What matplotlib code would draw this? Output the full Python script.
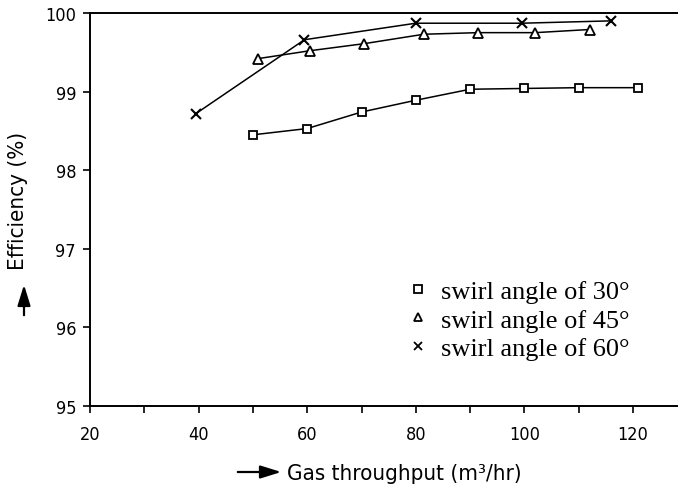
import matplotlib
matplotlib.use("Agg")
import matplotlib.pyplot as plt
from matplotlib.lines import Line2D
from matplotlib.ticker import MultipleLocator

## Data
x_30 = [50, 60, 70, 80, 90, 100, 110, 121]
eff_30 = [98.45, 98.53, 98.74, 98.89, 99.03, 99.04, 99.05, 99.05]

x_45 = [51, 60.5, 70.5, 81.5, 91.5, 102, 112]
eff_45 = [99.42, 99.52, 99.61, 99.73, 99.75, 99.75, 99.79]

x_60 = [39.5, 59.5, 80, 99.5, 116]
eff_60 = [98.72, 99.66, 99.87, 99.87, 99.90]

labels = ["swirl angle of 30°", "swirl angle of 45°", "swirl angle of 60°"]
x_ticks = [20, 40, 60, 80, 100, 120]
y_ticks = [95, 96, 97, 98, 99, 100]

tick_font = {"family": "DejaVu Sans", "stretch": "condensed", "size": 13}
label_font = {"family": "DejaVu Sans", "stretch": "condensed", "size": 16}

fig = plt.figure(figsize=(6.78, 4.89), dpi=100)
ax = fig.add_axes([90 / 678, 82 / 489, 588 / 678, 393 / 489])

ax.plot(x_30, eff_30, color="black", lw=1.1, marker="s", ms=6,
        mfc="white", mec="black", mew=1.3)
ax.plot(x_45, eff_45, color="black", lw=1.1, marker="^", ms=7,
        mfc="white", mec="black", mew=1.3)
ax.plot(x_60, eff_60, color="black", lw=1.1, marker="x", ms=7,
        mec="black", mew=1.5)

ax.set_xlim(20, 20 + 588 / 5.43)
ax.set_ylim(95, 100)
ax.set_xticks(x_ticks)
ax.set_yticks(y_ticks)
ax.xaxis.set_minor_locator(MultipleLocator(10))
ax.set_xticklabels([str(v) for v in x_ticks], fontdict=tick_font)
ax.set_yticklabels([str(v) for v in y_ticks], fontdict=tick_font)
ax.tick_params(axis="both", which="both", direction="out", width=1.2,
               color="black", length=5)
ax.tick_params(axis="x", which="major", pad=9)
ax.tick_params(axis="y", which="major", pad=5)

ax.spines["right"].set_visible(False)
for s in ["left", "bottom", "top"]:
    ax.spines[s].set_linewidth(1.4)

## Legend (markers only, serif text)
handles = [
    Line2D([], [], ls="none", marker="s", ms=6, mfc="white", mec="black", mew=1.3),
    Line2D([], [], ls="none", marker="^", ms=6, mfc="white", mec="black", mew=1.3),
    Line2D([], [], ls="none", marker="x", ms=6, mec="black", mew=1.3),
]
ax.legend(handles, labels, loc="upper left", bbox_to_anchor=(0.54, 0.322),
          frameon=False, handlelength=0.8, handletextpad=0.45,
          labelspacing=0.2, borderpad=0, borderaxespad=0,
          prop={"family": "Liberation Serif", "size": 19})

## Axis labels with arrows
arrow = dict(arrowstyle="-|>,head_width=0.28,head_length=0.9", color="black",
             lw=1.6, mutation_scale=14)
ax.annotate("", xy=(24, 206), xytext=(24, 170), xycoords="figure pixels",
            textcoords="figure pixels", arrowprops=arrow)
fig.text(18 / 678, 288 / 489, "Efficiency (%)", rotation=90, ha="center",
         va="center", fontdict=label_font)

ax.annotate("", xy=(284, 16), xytext=(235, 16), xycoords="figure pixels",
            textcoords="figure pixels", arrowprops=arrow)
fig.text(287 / 678, 15 / 489, "Gas throughput (m³/hr)", ha="left",
         va="center", fontdict=label_font)

fig.savefig("out.png", dpi=100)
